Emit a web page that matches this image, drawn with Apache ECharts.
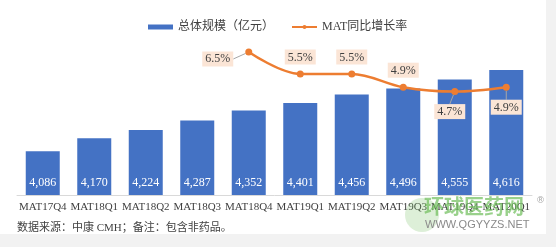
<!DOCTYPE html>
<html><head><meta charset="utf-8">
<script src="https://cdn.jsdelivr.net/npm/echarts@6/dist/echarts.min.js"></script>
<style>html,body{margin:0;padding:0;background:#fff;}#c{width:556px;height:247px;}</style>
</head><body><div id="c"></div>
<script>
const categories = ['MAT17Q4','MAT18Q1','MAT18Q2','MAT18Q3','MAT18Q4','MAT19Q1','MAT19Q2','MAT19Q3','MAT19Q4','MAT20Q1'];
const scaleValues = [4086,4170,4224,4287,4352,4401,4456,4496,4555,4616];
const growthValues = [null,null,null,null,6.5,5.5,5.5,4.9,4.7,4.9];
const barName = '总体规模（亿元）';
const lineName = 'MAT同比增长率';
const footnote = '数据来源：中康 CMH；备注：包含非药品。';

const serif = "'Liberation Serif', 'Noto Sans CJK SC', serif";
const labelPlacement = {
  4: {position:'left', distance:12, dx:0, dy:7},
  8: {position:'bottom', distance:9, dx:-5, dy:0},
  9: {position:'bottom', distance:9, dx:0, dy:0}
};
const lineData = growthValues.map((v,i)=>{
  if (v === null) return null;
  const p = labelPlacement[i];
  const item = {value:v};
  if (p) {
    item.label = {position:p.position, distance:p.distance};
  } else {
    item.labelLine = {show:false};
  }
  return item;
});

const chart = echarts.init(document.getElementById('c'), null, {renderer:'canvas'});
chart.setOption({
  animation:false,
  backgroundColor:'#ffffff',
  grid:{left:17, right:24, top:19, bottom:52},
  legend:{
    top:16, left:143, itemGap:17, itemWidth:25, itemHeight:5,
    textStyle:{fontFamily:serif, fontSize:12, color:'#404040'},
    data:[{name:barName, icon:'rect'},{name:lineName}]
  },
  xAxis:{
    type:'category', data:categories,
    axisLine:{lineStyle:{color:'#d9d9d9'}},
    axisTick:{show:false},
    axisLabel:{fontFamily:serif, fontSize:11, color:'#404040', margin:7, interval:0}
  },
  yAxis:[
    {type:'value', min:3800, max:4950, show:false},
    {type:'value', min:0, max:8, show:false}
  ],
  series:[
    {
      name:barName, type:'bar', data:scaleValues, barWidth:34,
      itemStyle:{color:'#4472c4'},
      label:{show:true, position:'insideBottom', distance:6, color:'#ffffff',
        fontFamily:serif, fontSize:12,
        formatter:p=>p.value.toLocaleString('en-US')}
    },
    {
      name:lineName, type:'line', yAxisIndex:1, data:lineData, smooth:0.35,
      symbol:'circle', symbolSize:7,
      lineStyle:{color:'#ed7d31', width:2.5},
      itemStyle:{color:'#ed7d31'},
      labelLine:{show:true, lineStyle:{color:'#a6a6a6', width:1}},
      labelLayout:function(params){
        const p = labelPlacement[params.dataIndex];
        return p ? {dx:p.dx, dy:p.dy, moveOverlap:false} : {moveOverlap:false};
      },
      label:{show:true, position:'top', distance:6, color:'#404040',
        fontFamily:serif, fontSize:12, backgroundColor:'#fbe5d6', padding:[2,3,1,3],
        formatter:p=>p.value.toFixed(1)+'%'}
    }
  ],
  graphic:[
    {type:'rect', left:546, top:0, shape:{width:10, height:247}, style:{fill:'#f2f2f2'}, z:-1},
    {type:'rect', left:0, top:234, shape:{width:556, height:13}, style:{fill:'#f2f2f2'}, z:-1},
    {type:'text', left:17, top:223, style:{text:footnote, fontFamily:serif, fontSize:11, fill:'#404040'}},
    {type:'circle', left:405, top:198, shape:{r:17}, style:{fill:'rgba(120,190,100,0.25)'}, z:50},
    {type:'text', left:424, top:196, style:{text:'环球医药网', fontFamily:"'Noto Sans CJK SC'", fontWeight:'bold', fontSize:20, fill:'rgba(110,190,90,0.7)'}, z:50},
    {type:'text', left:536, top:196, style:{text:'®', fontFamily:"'DejaVu Sans'", fontSize:9, fill:'#aaaaaa'}, z:50},
    {type:'text', left:425, top:219, style:{text:'WWW.QGYYZS.NET', fontFamily:"'Liberation Sans'", fontSize:11, fill:'#8a8a8a'}, z:50}
  ]
});
</script></body></html>
